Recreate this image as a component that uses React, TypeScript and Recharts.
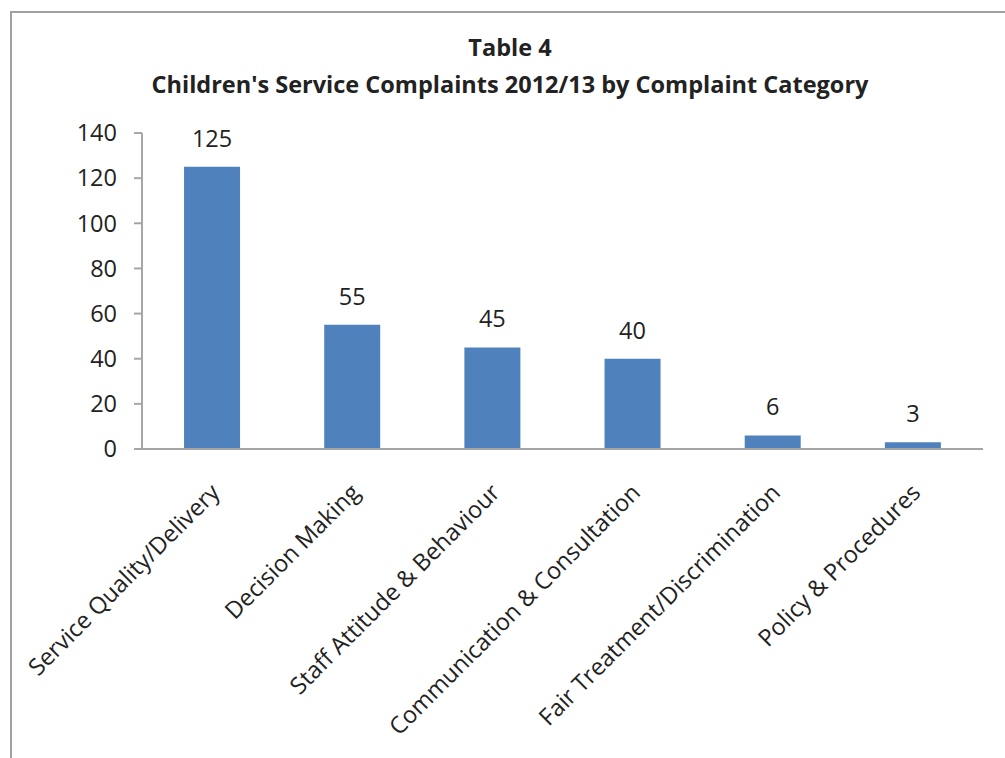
import React from "react";
import { BarChart, Bar, XAxis, YAxis, LabelList } from "recharts";

const categories = [
  "Service Quality/Delivery",
  "Decision Making",
  "Staff Attitude & Behaviour",
  "Communication & Consultation",
  "Fair Treatment/Discrimination",
  "Policy & Procedures",
];
const complaints = [125, 55, 45, 40, 6, 3];
const yTicks = [0, 20, 40, 60, 80, 100, 120, 140];

const data = categories.map((name, i) => ({ name, value: complaints[i] }));

const FONT = "'Open Sans', sans-serif";
const FONT_SIZE = 23.5;
const AXIS_GREY = "#a6a6a6";

function CategoryTick(props: any) {
  const { x, y, payload } = props;
  return (
    <g transform={`translate(${x + 9},${y + 37})`}>
      <text
        transform="rotate(-45)"
        textAnchor="end"
        fontSize={FONT_SIZE}
        fontFamily={FONT}
        fill="#222"
      >
        {payload.value}
      </text>
    </g>
  );
}

export default function App() {
  return (
    <div
      style={{
        position: "fixed",
        top: 0,
        left: 0,
        width: 1005,
        height: 758,
        overflow: "hidden",
        background: "#fff",
      }}
    >
      {/* chart frame, cut by the page edge on the right and bottom */}
      <div
        style={{
          position: "absolute",
          left: 10,
          top: 11,
          width: 1100,
          height: 900,
          border: "2px solid #a0a0a0",
        }}
      />
      <div
        style={{
          position: "absolute",
          left: 0,
          top: 29,
          width: 1020,
          textAlign: "center",
          fontFamily: FONT,
          fontWeight: 700,
          fontSize: FONT_SIZE,
          lineHeight: "37px",
          color: "#222",
        }}
      >
        <div>Table 4</div>
        <div>Children's Service Complaints 2012/13 by Complaint Category</div>
      </div>
      <div style={{ position: "absolute", left: 0, top: 0 }}>
        <BarChart
          width={1005}
          height={758}
          data={data}
          margin={{ top: 133, right: 22, bottom: 0, left: 0 }}
          barCategoryGap="30%"
        >
          <XAxis
            dataKey="name"
            height={309}
            interval={0}
            axisLine={{ stroke: AXIS_GREY, strokeWidth: 2 }}
            tickLine={false}
            tick={<CategoryTick />}
          />
          <YAxis
            width={142}
            domain={[0, 140]}
            ticks={yTicks}
            interval={0}
            axisLine={{ stroke: AXIS_GREY, strokeWidth: 2 }}
            tickLine={{ stroke: AXIS_GREY, strokeWidth: 2 }}
            tickSize={8}
            tickMargin={17}
            tick={{ fontSize: FONT_SIZE, fontFamily: FONT, fill: "#222" }}
          />
          <Bar dataKey="value" fill="#4f81bd" isAnimationActive={false}>
            <LabelList
              dataKey="value"
              position="top"
              offset={20}
              fontSize={FONT_SIZE}
              fontFamily={FONT}
              fill="#222"
            />
          </Bar>
        </BarChart>
      </div>
    </div>
  );
}
